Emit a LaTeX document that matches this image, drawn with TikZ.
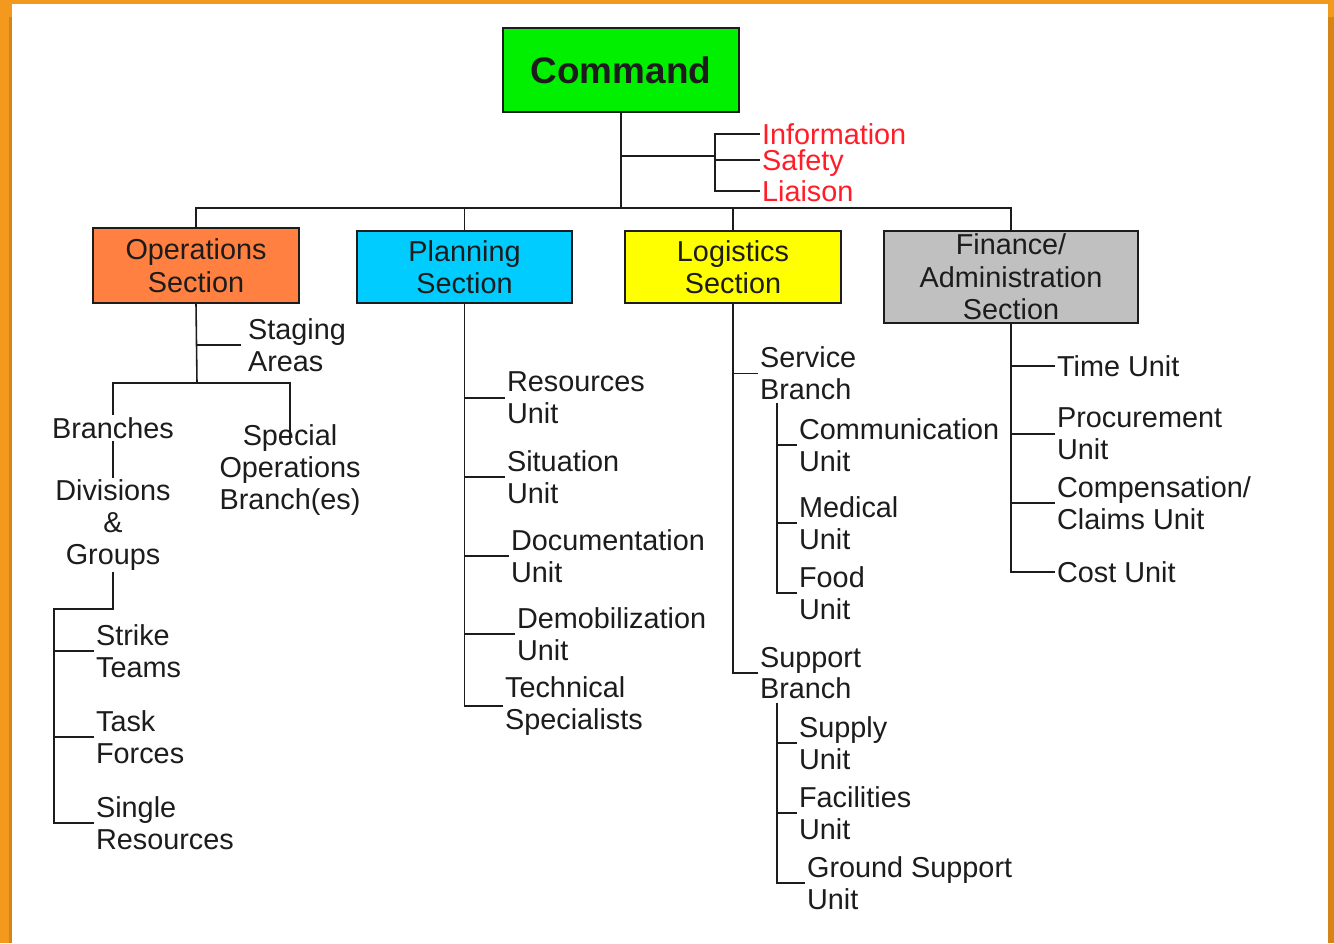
\documentclass[tikz,border=0pt]{standalone}
\usepackage{fontspec}
\setmainfont{Liberation Sans}
\usetikzlibrary{positioning}

\definecolor{frameorange}{RGB}{243,154,30}
\definecolor{frameshade}{RGB}{214,132,24}
\definecolor{cmdgreen}{RGB}{0,240,0}
\definecolor{opsorange}{RGB}{255,128,64}
\definecolor{plncyan}{RGB}{0,204,255}
\definecolor{logyellow}{RGB}{255,255,0}
\definecolor{fingray}{RGB}{192,192,192}
\definecolor{staffred}{RGB}{255,30,40}
\definecolor{inkgray}{RGB}{28,28,28}

\newcommand{\unitfont}{\fontsize{16.4}{18}\selectfont}
\newcommand{\sectfont}{\fontsize{16.4}{18.5}\selectfont}
\newcommand{\cmdfont}{\fontsize{21}{25}\selectfont\bfseries}

\tikzset{
  sectbox/.style={draw=inkgray, line width=0.8pt, align=center, font=\sectfont, inner sep=0pt, text=inkgray},
  unitlbl/.style={anchor=west, align=left, font=\unitfont, inner sep=1pt, text=inkgray},
  midlbl/.style={align=center, font=\unitfont, inner sep=1pt, text=inkgray},
  staff/.style={unitlbl, text=staffred, text depth=0pt},
  wire/.style={draw=inkgray, line width=0.9pt},
}

\begin{document}
\begin{tikzpicture}[x=0.02cm, y=-0.02cm]
    % Frame
    \fill[frameorange] (0,0) rectangle (1334,943);
    \fill[frameshade] (9,17) rectangle (12,943);
    \fill[frameshade] (1328,17) rectangle (1334,943);
    \fill[white] (12,4) rectangle (1328,943);
    \useasboundingbox (0,0) rectangle (1334,943);

    % Command and the four sections
    \node[sectbox, fill=cmdgreen, minimum width=4.72cm, minimum height=1.68cm, font=\cmdfont] (cmd) at (621,70) {Command};
    \node[sectbox, fill=opsorange, minimum width=4.12cm, minimum height=1.5cm] (ops) at (196,265.5) {Operations\\Section};
    \node[sectbox, fill=plncyan, minimum width=4.3cm, minimum height=1.44cm] (pln) at (464.5,267) {Planning\\Section};
    \node[sectbox, fill=logyellow, minimum width=4.32cm, minimum height=1.44cm] (log) at (733,267) {Logistics\\Section};
    \node[sectbox, fill=fingray, minimum width=5.08cm, minimum height=1.84cm] (fin) at (1011,277) {Finance/\\Administration\\Section};

    \coordinate (bus) at (621,208);
    \draw[wire] (cmd.south) -- (bus);
    \draw[wire] (ops.north) |- (bus) -| (fin.north);
    \draw[wire] (pln.north) -- (pln.north |- bus);
    \draw[wire] (log.north) -- (log.north |- bus);

    % Command staff
    \node[staff] (info) at (760,134) {Information};
    \node[staff] (safe) at (760,160) {Safety};
    \node[staff] (liai) at (760,191) {Liaison};
    \coordinate (stf) at (715,156);
    \draw[wire] (cmd.south |- stf) -- (stf);
    \draw[wire] (info.west) -| (stf) |- (liai.west);
    \draw[wire] (stf |- safe.west) -- (safe.west);

    % Operations
    \node[unitlbl] (stg) at (246,345) {Staging\\Areas};
    \node[midlbl] (brn) at (113,428) {Branches};
    \node[midlbl] (spo) at (290,470) {Special\\Operations\\Branch(es)};
    \node[midlbl] (div) at (113,525) {Divisions\\\&\\Groups};
    \coordinate (opsfork) at (197,383);
    \coordinate (spotip) at (290,443);
    \draw[wire] (ops.south) -- (opsfork);
    \draw[wire] (ops.south |- stg.west) -- (241,345);
    \draw[wire] (brn.north) |- (opsfork) -| (spotip);
    \draw[wire] (brn) -- (div);

    \node[unitlbl] (stk) at (94,651) {Strike\\Teams};
    \node[unitlbl] (tsk) at (94,737) {Task\\Forces};
    \node[unitlbl] (sgl) at (94,823) {Single\\Resources};
    \coordinate (grpfork) at (54,609);
    \draw[wire] (div.south) |- (grpfork) |- (sgl.west);
    \foreach \u in {stk,tsk}
        \draw[wire] (grpfork |- \u.west) -- (\u.west);

    % Planning
    \node[unitlbl] (res) at (505,398) {Resources\\Unit};
    \node[unitlbl] (sit) at (505,477) {Situation\\Unit};
    \node[unitlbl] (doc) at (509,556) {Documentation\\Unit};
    \node[unitlbl] (dem) at (515,634) {Demobilization\\Unit};
    \node[unitlbl] (tec) at (503,706) {Technical\\Specialists};
    \draw[wire] (pln.south) |- (tec.west);
    \foreach \u in {res,sit,doc,dem}
        \draw[wire] (pln.south |- \u.west) -- (\u.west);

    % Logistics
    \node[unitlbl] (svc) at (758,373.5) {Service\\Branch};
    \node[unitlbl] (spt) at (758,673) {Support\\Branch};
    \draw[wire] (log.south) |- (spt.west);
    \draw[wire] (log.south |- svc.west) -- (svc.west);

    \node[unitlbl] (com) at (797,445) {Communication\\Unit};
    \node[unitlbl] (med) at (797,523) {Medical\\Unit};
    \node[unitlbl] (fod) at (797,593) {Food\\Unit};
    \coordinate (svcbar) at (777,403);
    \draw[wire] (svcbar) |- (fod.west);
    \foreach \u in {com,med}
        \draw[wire] (svcbar |- \u.west) -- (\u.west);

    \node[unitlbl] (sup) at (797,743) {Supply\\Unit};
    \node[unitlbl] (fac) at (797,813) {Facilities\\Unit};
    \node[unitlbl] (gnd) at (805,883) {Ground Support\\Unit};
    \coordinate (sptbar) at (777,703);
    \draw[wire] (sptbar) |- (gnd.west);
    \foreach \u in {sup,fac}
        \draw[wire] (sptbar |- \u.west) -- (\u.west);

    % Finance/Administration
    \node[unitlbl] (tim) at (1055,366) {Time Unit};
    \node[unitlbl] (prc) at (1055,434) {Procurement\\Unit};
    \node[unitlbl] (cmp) at (1055,503) {Compensation/\\Claims Unit};
    \node[unitlbl] (cst) at (1055,572) {Cost Unit};
    \draw[wire] (fin.south) |- (cst.west);
    \foreach \u in {tim,prc,cmp}
        \draw[wire] (fin.south |- \u.west) -- (\u.west);

\end{tikzpicture}
\end{document}
